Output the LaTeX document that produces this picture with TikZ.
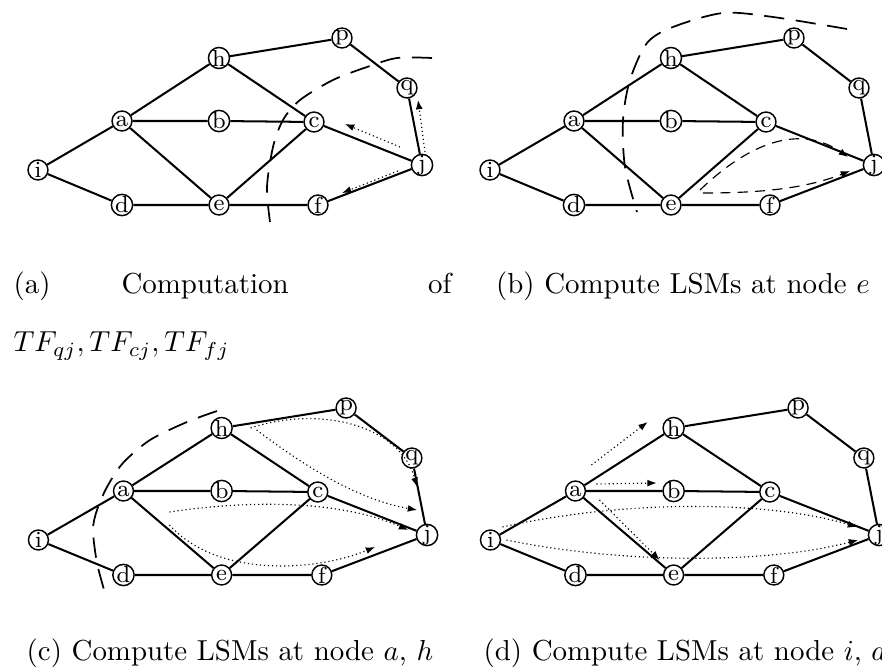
\documentclass[tikz,border=0pt]{standalone}
\usetikzlibrary{arrows.meta,calc}

\tikzset{
  vertex/.style={draw, circle, line width=0.5pt, inner sep=0pt, minimum size=6.9pt, font=\footnotesize, fill=white},
  link/.style={line width=0.7pt},
  cutline/.style={line width=0.6pt, dash pattern=on 7pt off 4pt},
  dashflow/.style={line width=0.4pt, dash pattern=on 3.5pt off 2.5pt, -{Latex[length=3.2pt,width=2.4pt]}},
  dotflow/.style={line width=0.4pt, densely dotted, -{Latex[length=3.2pt,width=2.4pt]}},
  captext/.style={inner sep=0pt},
}

\begin{document}
\begin{tikzpicture}[x=0.346pt, y=-0.346pt]
    \useasboundingbox (0,0) rectangle (882,668);
    \clip (0,0) rectangle (882,668);

    % 四个子图的网络
    \foreach \p/\dx/\dy/\s in {A/0/0/1, B/452/0/1, C/0/370/1.012, D/452/370/1.012} {
      \begin{scope}[shift={(\dx,\dy)}, xscale=\s]
        \node[vertex] (\p-i) at (38,170) {i};
        \node[vertex] (\p-a) at (122,121) {a};
        \node[vertex] (\p-h) at (219,58) {h};
        \node[vertex] (\p-b) at (219,121) {b};
        \node[vertex] (\p-c) at (314,122) {c};
        \node[vertex] (\p-p) at (342,38) {p};
        \node[vertex] (\p-q) at (407,88) {q};
        \node[vertex] (\p-j) at (422,165) {j};
        \node[vertex] (\p-d) at (122,205) {d};
        \node[vertex] (\p-e) at (219,205) {e};
        \node[vertex] (\p-f) at (318,205) {f};
        \draw[link] (\p-i) -- (\p-a) -- (\p-h) -- (\p-p) -- (\p-q) -- (\p-j) -- (\p-f) -- (\p-e) -- (\p-d) -- (\p-i);
        \draw[link] (\p-a) -- (\p-b) -- (\p-c) -- (\p-j);
        \draw[link] (\p-h) -- (\p-c) -- (\p-e) -- (\p-a);
      \end{scope}
    }

    % (a) 割线与 TF
    \draw[cutline] plot[smooth] coordinates {(432,58) (397,58) (367,67) (333,80) (300,100) (283,120) (273,147) (267,187) (270,222)};
    \draw[dotflow] ($(A-j)+(3,-13)$) -- ($(A-q)+(11,12)$);
    \draw[dotflow] ($(A-j)+(-22,-18)$) -- ($(A-c)+(31,2)$);
    \draw[dotflow] ($(A-j)+(-24,6)$) -- ($(A-f)+(24,-12)$);

    % (b) 节点 e
    \draw[cutline] plot[smooth] coordinates {(847,29) (773,17) (723,13) (673,27) (647,43) (630,80) (623,120) (625,167) (637,212)};
    \draw[dashflow] ($(B-e)+(29,-15)$) .. controls +(52,-50) and +(-46,-32) .. ($(B-j)+(-26,-8)$);
    \draw[dashflow] ($(B-e)+(32,-12)$) .. controls +(49,0) and +(-48,19) .. ($(B-j)+(-24,6)$);

    % (c) 节点 a, h
    \draw[cutline] plot[smooth] coordinates {(217,411) (187,422) (150,440) (123,463) (107,487) (97,510) (93,530) (97,563) (105,593)};
    \draw[dotflow] ($(C-h)+(29,0)$) .. controls +(69,-23) and +(-17,-62) .. ($(C-j)+(-10,-48)$);
    \draw[dotflow] ($(C-h)+(35,2)$) .. controls +(53,40) and +(-57,-10) .. ($(C-j)+(-10,-25)$);
    \draw[dotflow] ($(C-a)+(46,21)$) .. controls +(80,-12) and +(-68,-30) .. ($(C-j)+(-19,-5)$);
    \draw[dotflow] ($(C-a)+(46,34)$) .. controls +(50,55) and +(-55,23) .. ($(C-j)+(-52,12)$);

    % (d) 节点 i, a
    \draw[dotflow] ($(D-a)+(16,-26)$) -- ($(D-h)+(-26,-6)$);
    \draw[dotflow] ($(D-a)+(21,-7)$) -- ($(D-b)+(-17,-8)$);
    \draw[dotflow] ($(D-a)+(24,9)$) -- ($(D-e)+(-14,-15)$);
    \draw[dotflow] ($(D-i)+(12,-13)$) .. controls +(121,-27) and +(-91,-27) .. ($(D-j)+(-22,-8)$);
    \draw[dotflow] ($(D-i)+(16,0)$) .. controls +(117,24) and +(-92,24) .. ($(D-j)+(-21,5)$);

    % 标题
    \node[captext, anchor=base west] (capa) at (13,293) {(a)};
    \node[captext, anchor=base west] (capa2) at (121,293) {Computation};
    \node[captext, anchor=base east] (capa3) at (452,293) {of};
    \node[captext, anchor=base west] (capa4) at (13,352) {$TF_{qj},TF_{cj},TF_{fj}$};
    \node[captext, anchor=base] (capb) at (683,293) {(b) Compute LSMs at node $e$};
    \node[captext, anchor=base] (capc) at (230,661) {(c) Compute LSMs at node $a$, $h$};
    \node[captext, anchor=base west] (capd) at (483,661) {(d) Compute LSMs at node $i$, $a$};
\end{tikzpicture}
\end{document}
